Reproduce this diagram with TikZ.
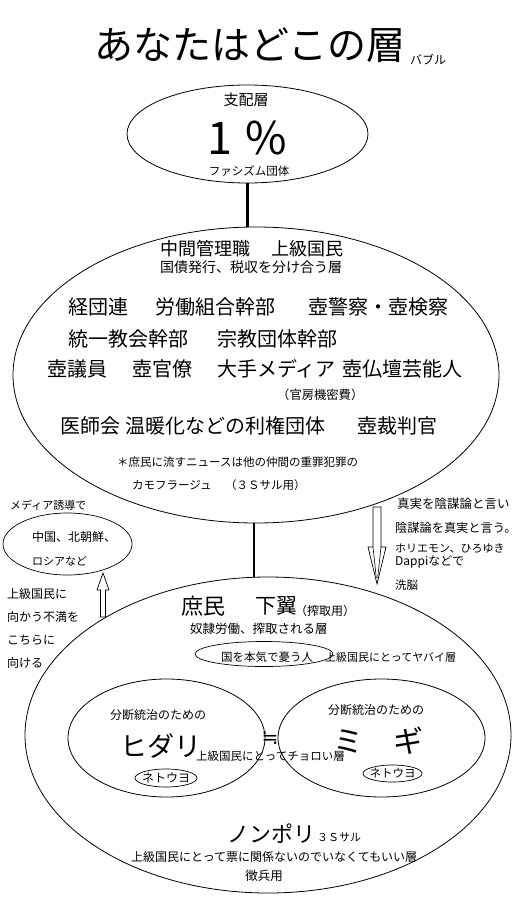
\documentclass[tikz,border=0pt]{standalone}
\usepackage{fontspec}
\setmainfont{Noto Sans CJK JP}
\newfontfamily\symfont{DejaVu Sans}
\usetikzlibrary{positioning,shapes.geometric}
\newcommand\fsz[1]{\fontsize{#1}{#1}\selectfont}

\begin{document}
\begin{tikzpicture}[x=1pt,y=-1pt,inner sep=0pt,
  layer/.style={draw,ellipse,line width=0.8pt},
  stem/.style={line width=2.6pt},
  txt/.style={anchor=west},
  hollow/.style={draw,line width=0.7pt,fill=white,line join=miter}]

  \fill[white] (0,0) rectangle (530,909);
  \useasboundingbox (0,0) rectangle (530,909);

  % title
  \node[txt,font=\fsz{39}] (title) at (94,45) {あなたはどこの層};
  \node[txt,font=\fsz{12}] (bubble) at (410,60) {バブル};

  % top layer
  \node[layer,minimum width=241,minimum height=98] (shihai) at (247.5,134) {};
  \node[font=\fsz{15}] (shihaiT) at (246,100) {支配層};
  \node[font=\fsz{45}] (pct) at (247,138) {1\hspace{0.3em}\%};
  \node[font=\fsz{11.5}] (fascism) at (249,171) {ファシズム団体};

  % middle layer
  \node[layer,minimum width=486,minimum height=296] (chukan) at (256,375) {};
  \node[txt,font=\fsz{18}] (chukanT) at (160,249) {中間管理職\hspace{1.2em}上級国民};
  \node[txt,font=\fsz{14}] (kokusai) at (160,267) {国債発行、税収を分け合う層};
  \node[txt,font=\fsz{20}] (keidanren) at (68,307) {経団連};
  \node[txt,font=\fsz{20}] (roudou) at (155,307) {労働組合幹部};
  \node[txt,font=\fsz{20}] (keisatsu) at (308,307) {壺警察・壺検察};
  \node[txt,font=\fsz{20}] (touitsu) at (68,339) {統一教会幹部};
  \node[txt,font=\fsz{20}] (shukyo) at (217,339) {宗教団体幹部};
  \node[txt,font=\fsz{20}] (giin) at (47,369) {壺議員};
  \node[txt,font=\fsz{20}] (kanryo) at (132,369) {壺官僚};
  \node[txt,font=\fsz{20}] (media) at (217,369) {大手メディア};
  \node[txt,font=\fsz{20}] (geinou) at (342,369) {壺仏壇芸能人};
  \node[txt,font=\fsz{12.3}] (kimitsu) at (277,395) {（官房機密費）};
  \node[txt,font=\fsz{20}] (ishikai) at (60,426) {医師会};
  \node[txt,font=\fsz{20}] (riken) at (125,426) {温暖化などの利権団体};
  \node[txt,font=\fsz{20}] (saiban) at (357,426) {壺裁判官};
  \node[txt,font=\fsz{11.5}] (note1) at (117,462) {＊庶民に流すニュースは他の仲間の重罪犯罪の};
  \node[txt,font=\fsz{11.5}] (note2) at (132,485) {カモフラージュ};
  \node[txt,font=\fsz{11.5}] (note3) at (225,485) {（３Ｓサル用）};

  % bottom layer
  \node[layer,minimum width=486,minimum height=316] (shomin) at (268,735) {};
  \node[txt,font=\fsz{22}] (shominT) at (181,606) {庶民};
  \node[txt,font=\fsz{21}] (geyoku) at (255,606) {下翼};
  \node[txt,font=\fsz{12}] (sakushu) at (295,611) {（搾取用）};
  \node[txt,font=\fsz{12.5}] (dorei) at (190,629) {奴隷労働、搾取される層};
  \node[layer,line width=0.7pt,minimum width=138,minimum height=25] (yuu) at (264,654) {};
  \node[txt,font=\fsz{11.5}] (yuuT) at (221,657) {国を本気で憂う人};
  \node[txt,font=\fsz{11}] (yabai) at (325,657) {上級国民にとってヤバイ層};

  \node[layer,minimum width=197,minimum height=118] (hidari) at (166.5,738) {};
  \node[layer,minimum width=207,minimum height=118] (migi) at (381.5,738) {};
  \node[txt,font=\fsz{12}] (bunL) at (110,715) {分断統治のための};
  \node[txt,font=\fsz{12}] (bunR) at (328,710) {分断統治のための};
  \node[txt,font=\fsz{27}] (hidariT) at (120,746) {ヒダリ};
  \node[txt,font=\fsz{30}] (migiT) at (333,741) {ミ　ギ};
  \node[txt,font=\fsz{11.5}] (chorooi) at (196,756) {上級国民にとってチョロい層};
  \node[font=\symfont\fsz{20}] (nearly) at (270,738) {≒};
  \node[layer,line width=0.7pt,minimum width=62,minimum height=18] (netuyoL) at (166,778) {};
  \node[font=\fsz{12}] at (netuyoL) {ネトウヨ};
  \node[layer,line width=0.7pt,minimum width=59,minimum height=17] (netuyoR) at (392.5,773.5) {};
  \node[font=\fsz{11.5}] at (netuyoR) {ネトウヨ};

  \node[txt,font=\fsz{22}] (nonpori) at (227,834) {ノンポリ};
  \node[txt,font=\fsz{11}] (sansaru) at (317,837) {３Ｓサル};
  \node[txt,font=\fsz{12}] (hyou) at (131,857) {上級国民にとって票に関係ないのでいなくてもいい層};
  \node[font=\fsz{12.5}] (chouhei) at (264,876) {徴兵用};

  % stems
  \draw[stem] (shihai.south) -- (shihai.south |- chukan.north);
  \draw[stem] (chukan.south -| 254,0) -- (shomin.north -| 254,0);

  % left side
  \node[txt,font=\fsz{11}] (yuudou) at (10,505) {メディア誘導で};
  \node[layer,line width=0.7pt,minimum width=129,minimum height=62] (gaikoku) at (67.5,544) {};
  \node[txt,font=\fsz{12}] (china) at (32,537) {中国、北朝鮮、};
  \node[txt,font=\fsz{11}] (russia) at (32,561) {ロシアなど};
  \node[txt,align=left,font=\fontsize{12}{23}\selectfont] (fuman) at (7,628)
    {上級国民に\\向かう不満を\\こちらに\\向ける};
  \coordinate (upTip) at (103,573);
  \draw[hollow] (upTip) -- ++(6,17) -- ++(-3.5,0) -- ++(0,27) -- ++(-5,0)
    -- ++(0,-27) -- ++(-3.5,0) -- cycle;

  % right side
  \node[txt,font=\fsz{12.5}] (shinjitsu) at (397,504) {真実を陰謀論と言い};
  \node[txt,font=\fsz{12.2}] (inbou) at (395,528) {陰謀論を真実と言う。};
  \node[txt,font=\fsz{11}] (horie) at (395,548) {ホリエモン、ひろゆき};
  \node[txt,font=\fsz{12}] (dappi) at (395,562) {Dappiなどで};
  \node[txt,font=\fsz{11.5}] (sennou) at (395,585) {洗脳};
  \coordinate (downTop) at (373,507);
  \draw[hollow] (downTop) -- ++(8,0) -- ++(0,40) -- ++(5,0) -- ++(-9,37)
    -- ++(-9,-37) -- ++(5,0) -- cycle;
  \draw[line width=0.6pt] (373,547) -- (376.3,578) (381,547) -- (377.7,578);
\end{tikzpicture}
\end{document}
